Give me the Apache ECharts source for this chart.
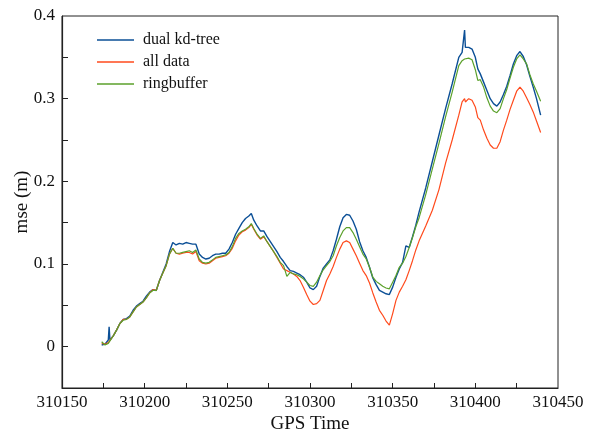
<!DOCTYPE html>
<html>
<head>
<meta charset="utf-8">
<title>mse vs GPS Time</title>
<script src="https://cdn.jsdelivr.net/npm/echarts@6/dist/echarts.min.js"></script>
<style>
  html, body { margin: 0; padding: 0; background: #fff; }
  #myChart { width: 590px; height: 432px; }
</style>
</head>
<body>
<div id="myChart"></div>
<script>
// GPS time stamps shared by the three runs
var gpsTime = [
  310174, 310176, 310178, 310178.5, 310179, 310181, 310183, 310185, 310187, 310189,
  310191, 310193, 310195, 310197, 310199, 310201, 310203, 310205, 310207, 310209,
  310211, 310213, 310215, 310217, 310219, 310221, 310223, 310225, 310227, 310229,
  310231, 310233, 310235, 310237, 310239, 310241, 310243, 310245, 310247, 310249,
  310251, 310253, 310255, 310257, 310259, 310261, 310263, 310264.5, 310266, 310268,
  310270, 310272, 310274, 310276, 310278, 310280, 310282, 310284, 310286, 310288,
  310290, 310292, 310294, 310296, 310298, 310300, 310302, 310304, 310306, 310308,
  310310, 310312, 310314, 310316, 310318, 310320, 310322, 310324, 310326, 310328,
  310330, 310332, 310334, 310336, 310338, 310340, 310342, 310344, 310346, 310348,
  310350, 310352, 310354, 310356, 310358, 310360, 310362, 310364, 310366, 310370,
  310374, 310378, 310382, 310386, 310390, 310392, 310393.5, 310394, 310396, 310398,
  310400, 310401.5, 310403, 310405, 310407, 310409, 310411, 310413, 310415, 310417,
  310419, 310421, 310423, 310425, 310427, 310429, 310431, 310433, 310435, 310437,
  310439.5
]

var dualKdTree = [
  0.002, 0.003, 0.008, 0.024, 0.008, 0.013, 0.020, 0.028, 0.033, 0.034,
  0.037, 0.044, 0.049, 0.052, 0.055, 0.061, 0.066, 0.069, 0.068, 0.080,
  0.090, 0.100, 0.115, 0.126, 0.123, 0.125, 0.124, 0.126, 0.125, 0.124,
  0.124, 0.112, 0.108, 0.106, 0.107, 0.110, 0.112, 0.112, 0.113, 0.113,
  0.118, 0.126, 0.136, 0.143, 0.150, 0.155, 0.158, 0.161, 0.153, 0.146,
  0.140, 0.140, 0.133, 0.127, 0.121, 0.115, 0.108, 0.103, 0.097, 0.092,
  0.091, 0.089, 0.087, 0.084, 0.078, 0.071, 0.069, 0.073, 0.085, 0.095,
  0.100, 0.105, 0.116, 0.130, 0.145, 0.156, 0.160, 0.159, 0.152, 0.142,
  0.127, 0.116, 0.108, 0.096, 0.083, 0.075, 0.068, 0.066, 0.064, 0.063,
  0.072, 0.084, 0.094, 0.102, 0.122, 0.120, 0.133, 0.147, 0.163, 0.192,
  0.224, 0.256, 0.288, 0.318, 0.350, 0.356, 0.383, 0.362, 0.362, 0.360,
  0.350, 0.336, 0.330, 0.320, 0.310, 0.300, 0.294, 0.291, 0.296, 0.305,
  0.315, 0.328, 0.342, 0.352, 0.357, 0.351, 0.341, 0.327, 0.314, 0.300,
  0.280
]

var allData = [
  0.004, 0.003, 0.005, 0.006, 0.007, 0.013, 0.020, 0.028, 0.033, 0.033,
  0.036, 0.042, 0.048, 0.051, 0.054, 0.059, 0.065, 0.069, 0.068, 0.080,
  0.089, 0.098, 0.112, 0.119, 0.113, 0.112, 0.113, 0.114, 0.114, 0.112,
  0.115, 0.104, 0.101, 0.100, 0.101, 0.104, 0.107, 0.108, 0.109, 0.110,
  0.113, 0.119, 0.128, 0.135, 0.139, 0.141, 0.144, 0.148, 0.142, 0.135,
  0.130, 0.133, 0.127, 0.121, 0.115, 0.108, 0.101, 0.094, 0.092, 0.090,
  0.088, 0.085, 0.080, 0.072, 0.063, 0.055, 0.051, 0.052, 0.056, 0.068,
  0.080, 0.088, 0.097, 0.108, 0.118, 0.126, 0.128, 0.126, 0.118, 0.110,
  0.101, 0.092, 0.086, 0.077, 0.065, 0.054, 0.044, 0.038, 0.031, 0.026,
  0.040, 0.056, 0.066, 0.073, 0.081, 0.092, 0.104, 0.117, 0.128, 0.146,
  0.165, 0.190, 0.222, 0.250, 0.280, 0.296, 0.300, 0.296, 0.300, 0.298,
  0.290, 0.277, 0.274, 0.262, 0.252, 0.244, 0.240, 0.240, 0.248, 0.262,
  0.274, 0.287, 0.298, 0.309, 0.314, 0.309, 0.301, 0.293, 0.284, 0.273,
  0.259
]

var ringbuffer = [
  0.006, 0.002, 0.004, 0.005, 0.007, 0.013, 0.020, 0.028, 0.032, 0.033,
  0.036, 0.042, 0.048, 0.051, 0.054, 0.059, 0.065, 0.068, 0.068, 0.080,
  0.089, 0.098, 0.112, 0.119, 0.113, 0.113, 0.114, 0.115, 0.116, 0.114,
  0.117, 0.106, 0.102, 0.101, 0.102, 0.105, 0.108, 0.109, 0.110, 0.111,
  0.114, 0.121, 0.131, 0.137, 0.140, 0.142, 0.145, 0.149, 0.143, 0.136,
  0.131, 0.134, 0.127, 0.121, 0.115, 0.109, 0.102, 0.098, 0.085, 0.090,
  0.088, 0.087, 0.085, 0.082, 0.078, 0.074, 0.073, 0.078, 0.086, 0.093,
  0.098, 0.103, 0.110, 0.122, 0.132, 0.140, 0.144, 0.144, 0.138, 0.130,
  0.121, 0.112, 0.106, 0.096, 0.084, 0.079, 0.076, 0.073, 0.071, 0.070,
  0.078, 0.086, 0.096, 0.101, 0.109, 0.120, 0.132, 0.145, 0.156, 0.184,
  0.215, 0.246, 0.278, 0.308, 0.340, 0.346, 0.348, 0.350, 0.349, 0.347,
  0.335, 0.322, 0.323, 0.314, 0.301, 0.291, 0.285, 0.283, 0.288, 0.300,
  0.311, 0.325, 0.338, 0.348, 0.353, 0.348, 0.342, 0.329, 0.318, 0.309,
  0.297
]

var xTicks = [310175, 310200, 310225, 310250, 310275, 310300, 310325, 310350, 310375, 310400, 310425]
var yLabels = [0, 0.1, 0.2, 0.3, 0.4]
var yTicks = [0, 0.05, 0.1, 0.15, 0.2, 0.25, 0.3, 0.35]

function pairs (vals) {
  return gpsTime.map(function (t, i) { return [t, vals[i]] })
}

var serif = 'Liberation Serif'
var axisColor = '#222'

var myChart = echarts.init(document.getElementById('myChart'))
myChart.setOption({
  animation: false,
  grid: {
    left: 62,
    right: 32,
    top: 16,
    bottom: 44,
    outerBoundsMode: 'none',
    containLabel: false,
    show: true,
    borderColor: axisColor,
    borderWidth: 1
  },
  legend: {
    orient: 'vertical',
    left: 97,
    top: 32,
    padding: 0,
    icon: 'rect',
    itemWidth: 37,
    itemHeight: 1.4,
    itemGap: 6,
    textStyle: {
      fontFamily: serif,
      fontSize: 16,
      lineHeight: 16,
      color: '#111',
      padding: [0, 0, 0, 4]
    },
    data: ['dual kd-tree', 'all data', 'ringbuffer']
  },
  xAxis: {
    type: 'value',
    min: 310150,
    max: 310450,
    interval: 50,
    name: 'GPS Time',
    nameLocation: 'middle',
    nameGap: 27,
    nameMoveOverlap: false,
    nameTextStyle: { fontFamily: serif, fontSize: 19, color: '#111' },
    axisLine: { onZero: false, lineStyle: { color: axisColor, width: 1.2 } },
    axisTick: {
      inside: true,
      length: 5,
      customValues: xTicks,
      lineStyle: { color: axisColor }
    },
    axisLabel: {
      fontFamily: serif,
      fontSize: 17,
      color: '#111',
      margin: 6,
      formatter: function (v) { return String(v) }
    },
    splitLine: { show: false }
  },
  yAxis: {
    type: 'value',
    min: -0.05,
    max: 0.4,
    name: 'mse (m)',
    nameLocation: 'middle',
    nameGap: 30,
    nameMoveOverlap: false,
    nameTextStyle: { fontFamily: serif, fontSize: 19, color: '#111' },
    axisLine: { show: true, onZero: false, lineStyle: { color: axisColor, width: 1.2 } },
    axisTick: {
      show: true,
      inside: true,
      length: 6,
      customValues: yTicks,
      lineStyle: { color: axisColor }
    },
    axisLabel: {
      fontFamily: serif,
      fontSize: 17,
      color: '#111',
      margin: 7,
      customValues: yLabels,
      formatter: function (v) { return String(Math.round(v * 10) / 10) }
    },
    splitLine: { show: false }
  },
  series: [
    {
      name: 'dual kd-tree',
      type: 'line',
      data: pairs(dualKdTree),
      symbol: 'none',
      lineStyle: { width: 1.4 },
      itemStyle: { color: '#0b4f96' }
    },
    {
      name: 'all data',
      type: 'line',
      data: pairs(allData),
      symbol: 'none',
      lineStyle: { width: 1.2 },
      itemStyle: { color: '#ff4a1c' }
    },
    {
      name: 'ringbuffer',
      type: 'line',
      data: pairs(ringbuffer),
      symbol: 'none',
      lineStyle: { width: 1.2 },
      itemStyle: { color: '#5ba12b' }
    }
  ]
})

window.onresize = function () {
  myChart.resize()
}
</script>
</body>
</html>
